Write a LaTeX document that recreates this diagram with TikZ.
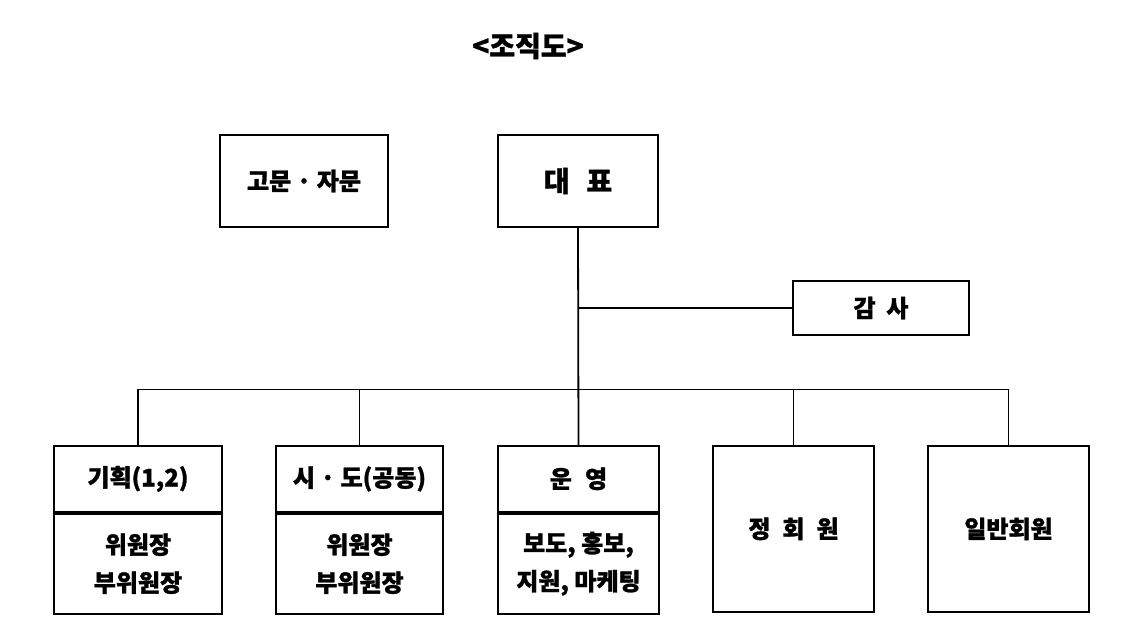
\documentclass[tikz,border=0pt]{standalone}
\usepackage{fontspec}
\setmainfont{Noto Sans CJK KR}[BoldFeatures={FakeBold=1.2}]
\begin{document}
\begin{tikzpicture}[x=1pt,y=-1pt,
  line width=1.8pt,
  every node/.style={font=\bfseries\fontsize{24}{38}\selectfont, inner sep=0pt, align=center},
  box/.style={draw, minimum width=#1},
  headbox/.style={draw, minimum width=#1, minimum height=66pt, anchor=north},
  bodybox/.style={draw, minimum width=#1, minimum height=100pt, anchor=north},
  fullbox/.style={draw, minimum width=#1, minimum height=166pt, anchor=north},
  link/.style={line width=1.8pt}
]
\useasboundingbox (0,0) rectangle (1124,640);
\node (title) at (528,46) {\fontsize{28}{32}\selectfont <조직도>};

\node[box=168pt, minimum height=92pt] (gomun) at (304,181) {고문 · 자문};
\node[box=160pt, minimum height=92pt] (ceo) at (578,181) {\fontsize{28}{32}\selectfont 대\hspace{0.6em}표};
\node[box=176pt, minimum height=54pt] (audit) at (881,308) {감\hspace{0.45em}사};

\node[headbox=168pt] (b1h) at (138,445) {기획(1,2)};
\node[bodybox=168pt] (b1b) at (b1h.south) {위원장\\부위원장};
\node[headbox=167pt] (b2h) at (359.5,445) {시 · 도(공동)};
\node[bodybox=167pt] (b2b) at (b2h.south) {위원장\\부위원장};
\node[headbox=161pt] (b3h) at (578.5,445) {운\hspace{0.55em}영};
\node[bodybox=161pt] (b3b) at (b3h.south) {보도, 홍보,\\지원, 마케팅};
\node[fullbox=161pt] (b4) at (793.5,445) {정\hspace{0.5em}회\hspace{0.5em}원};
\node[fullbox=161pt] (b5) at (1008.5,445) {일반회원};

\coordinate (bus) at (578,389.5);
\draw[link] (ceo.south) -- (b3h.north);
\draw[link] (audit.west) -- (audit.west -| ceo.south);
\draw[link] (b1h.north) -- (b1h.north |- bus) -- (b5.north |- bus) -- (b5.north);
\draw[link] (b2h.north) -- (b2h.north |- bus);
\draw[link] (b4.north) -- (b4.north |- bus);
\end{tikzpicture}
\end{document}
